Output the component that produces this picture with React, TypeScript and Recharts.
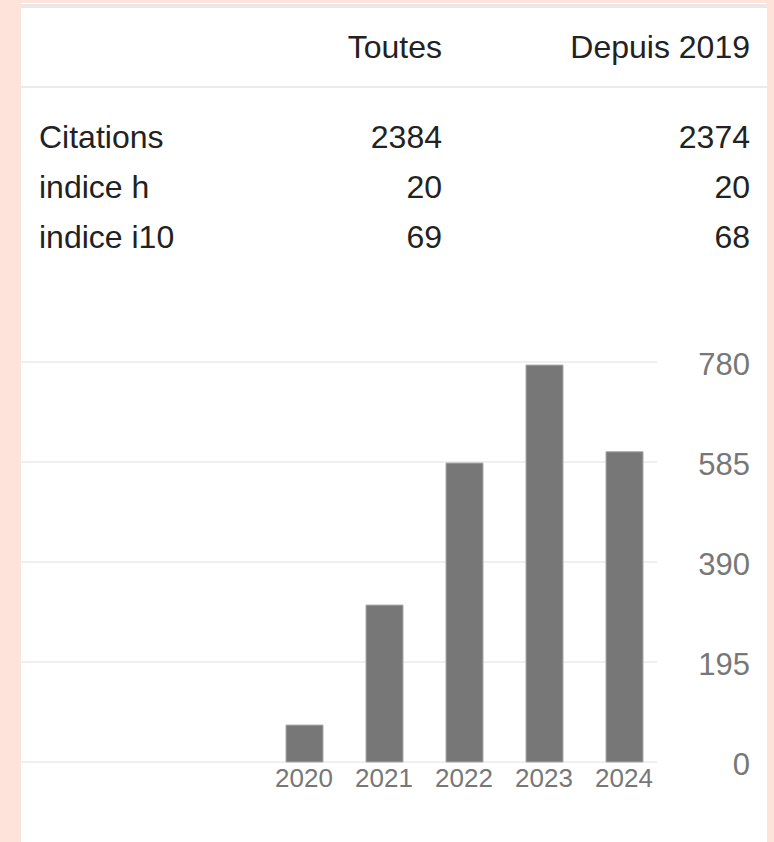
import { BarChart, Bar, XAxis, YAxis, CartesianGrid } from "recharts";

// citation table
const metricLabels = ["Citations", "indice h", "indice i10"];
const allValues = [2384, 20, 69];
const since2019Values = [2374, 20, 68];
const columnHeaders = ["Toutes", "Depuis 2019"];

// citations per year
const years = [2020, 2021, 2022, 2023, 2024];
const citations = [72, 306, 583, 774, 605];
const yTicks = [0, 195, 390, 585, 780];

const chartData = years.map((year, i) => ({ year, count: citations[i] }));

const FONT = "'Liberation Sans', Arial, sans-serif";

function RightTick(props: any) {
  const { x, y, payload } = props;
  return (
    <text
      x={x + 93}
      y={y + 2}
      textAnchor="end"
      dominantBaseline="central"
      fill="#777"
      fontSize={31}
      fontFamily={FONT}
    >
      {payload.value}
    </text>
  );
}

export default function App() {
  return (
    <div
      style={{
        position: "relative",
        width: 774,
        height: 842,
        background: "#fde3d9",
        fontFamily: FONT,
        overflow: "hidden",
      }}
    >
      <style>{`body{margin:0}`}</style>
      <div
        style={{
          position: "absolute",
          left: 21,
          top: 3,
          width: 746,
          height: 839,
          background: "#fff",
        }}
      >
        <div style={{ position: "absolute", left: 0, top: 1, width: 746, height: 4, background: "#e8e8e8" }} />
        <div style={{ position: "absolute", left: 0, top: 83, width: 746, height: 2, background: "#ebebeb" }} />

        {/* header */}
        <div style={{ position: "absolute", top: 19, left: 0, width: 421, textAlign: "right", fontSize: 32, lineHeight: "50px", color: "#222" }}>
          {columnHeaders[0]}
        </div>
        <div style={{ position: "absolute", top: 19, left: 0, width: 729, textAlign: "right", fontSize: 32, lineHeight: "50px", color: "#222" }}>
          {columnHeaders[1]}
        </div>

        {metricLabels.map((label, i) => (
          <div key={label} style={{ position: "absolute", top: 109 + i * 50, left: 0, width: 746, height: 50, fontSize: 32, lineHeight: "50px", color: "#222" }}>
            <span style={{ position: "absolute", left: 18 }}>{label}</span>
            <span style={{ position: "absolute", right: 325 }}>{allValues[i]}</span>
            <span style={{ position: "absolute", right: 17 }}>{since2019Values[i]}</span>
          </div>
        ))}

        <div style={{ position: "absolute", left: 0, top: 337 }}>
          <BarChart
            width={746}
            height={462}
            data={chartData}
            margin={{ top: 22, right: 0, left: 0, bottom: 0 }}
          >
            <CartesianGrid vertical={false} stroke="#efefef" strokeWidth={2} />
            <XAxis
              dataKey="year"
              type="number"
              domain={[2016.4625, 2024.4125]}
              ticks={years}
              allowDataOverflow
              axisLine={false}
              tickLine={false}
              tickSize={0}
              tickMargin={7}
              height={40}
              tick={{ fill: "#777", fontSize: 26, fontFamily: FONT }}
            />
            <YAxis
              orientation="right"
              domain={[0, 780]}
              ticks={yTicks}
              width={110}
              axisLine={false}
              tickLine={false}
              tickSize={0}
              tickMargin={0}
              tick={<RightTick />}
            />
            <Bar
              dataKey="count"
              fill="#777"
              stroke="#aaa"
              strokeWidth={1}
              barSize={37}
              isAnimationActive={false}
            />
          </BarChart>
        </div>
      </div>
    </div>
  );
}
